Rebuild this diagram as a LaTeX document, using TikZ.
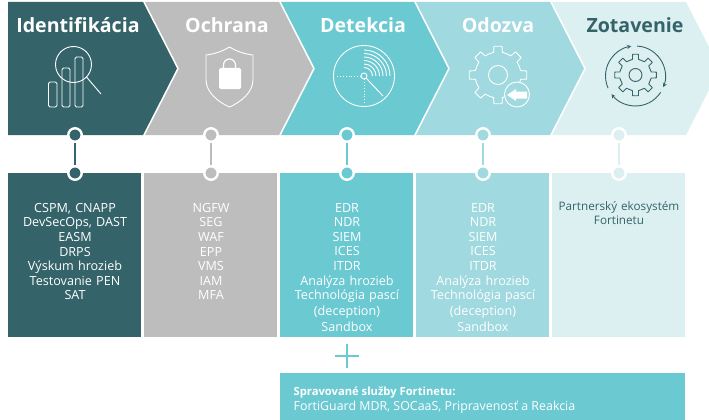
\documentclass[tikz,border=0pt]{standalone}
\usepackage{fontspec}
\setmainfont{Open Sans}
\usetikzlibrary{arrows}

\definecolor{identcol}{HTML}{35636A}
\definecolor{ochrcol}{HTML}{BDBDBD}
\definecolor{detcol}{HTML}{6BC9D2}
\definecolor{odocol}{HTML}{A0D9DF}
\definecolor{zotcol}{HTML}{DCF0F2}

% 8 teeth: outer radius, root radius
\newcommand{\gearpath}[2]{(-11:#2) \foreach \a in {0,45,...,315} {
	-- (\a-11:#2) -- (\a-8:#1) -- (\a+8:#1) -- (\a+11:#2) to[bend left=8] (\a+34:#2)} -- cycle}

\tikzset{
	heading/.style={font=\fontsize{19.6}{22}\selectfont\bfseries},
	box/.style={fill=#1, minimum width=133, minimum height=164, inner sep=0, anchor=north west},
	boxtext/.style={anchor=north, align=center, text width=133, inner sep=0, text=white, font=\fontsize{12.6}{14.6}\selectfont},
	dot/.style={circle, draw=white, line width=2.4, fill=#1, minimum size=13.5, inner sep=0},
	icon/.style={draw=white, line width=0.9, line join=round},
}

\begin{document}
\begin{tikzpicture}[x=1pt,y=-1pt]
	\useasboundingbox (0,0) rectangle (709,420);
	\clip (0,0) rectangle (709,420);

	\fill[identcol] (8,2) -- (143,2) -- (177,68.5) -- (143,135) -- (8,135) -- cycle;
	\fill[ochrcol] (145,2) -- (279,2) -- (313,68.5) -- (279,135) -- (145,135) -- (179,68.5) -- cycle;
	\fill[detcol] (281,2) -- (414,2) -- (448,68.5) -- (414,135) -- (281,135) -- (315,68.5) -- cycle;
	\fill[odocol] (416,2) -- (550,2) -- (584,68.5) -- (550,135) -- (416,135) -- (450,68.5) -- cycle;
	\fill[zotcol] (552,2) -- (686,2) -- (720,68.5) -- (686,135) -- (552,135) -- (586,68.5) -- cycle;

	\node[heading,text=white] (h1) at (78,25) {Identifikácia};
	\node[heading,text=white] (h2) at (227,25) {Ochrana};
	\node[heading,text=white] (h3) at (363,25) {Detekcia};
	\node[heading,text=white] (h4) at (498,25) {Odozva};
	\node[heading,text=identcol] (h5) at (635,25) {Zotavenie};

	% bars and magnifier
	\draw[icon,rounded corners=1.5] (48.5,82) rectangle (57,107);
	\draw[icon,rounded corners=1.5] (62,68) rectangle (70,107);
	\draw[icon,rounded corners=1.5] (75,57) rectangle (83,107);
	\draw[icon] (73.5,64.5) circle (18);
	\draw[icon] (86.5,77) -- (101,94);

	% shield
	\draw[icon] (229.5,47) .. controls (221,52) and (214,54) .. (206,55) -- (206,80) .. controls (206,92) and (218,102) .. (229.5,107) .. controls (241,102) and (253,92) .. (253,80) -- (253,55) .. controls (245,54) and (238,52) .. (229.5,47) -- cycle;
	\fill[white,rounded corners=1.5] (219,68) rectangle (241,89);
	\draw[white,line width=1.2] (223.5,69) -- (223.5,65) arc (180:360:6) -- (235.5,69);

	% radar
	\draw[icon] (364,76) circle (30.5);
	\draw[icon] (364,76) circle (3);
	\draw[icon,dotted,line width=1] (361,76.5) -- (335,76.5);
	\draw[icon,dotted,line width=1] (364,79) -- (364,105);
	\draw[icon] (366,78) -- (383,96);
	\draw[icon] (364,50) arc (-90:0:26);
	\draw[icon] (364,53.5) arc (-90:0:22.5);
	\draw[icon] (364,57) arc (-90:0:19);
	\draw[icon] (364,60.5) arc (-90:0:15.5);
	\draw[icon] (364,64) arc (-90:0:12);
	\draw[icon] (364,67.5) arc (-90:0:8.5);

	% gear with arrow
	\draw[icon,shift={(498,75)}] \gearpath{29}{23};
	\draw[icon] (498,75) circle (9.5);
	\draw[icon,fill=odocol] (517,94.5) circle (12.5);
	\fill[white] (507,95) -- (516,89) -- (516,91.5) -- (527,91.5) -- (527,98.5) -- (516,98.5) -- (516,101) -- cycle;

	% gear with turning arrows
	\draw[icon,draw=identcol,shift={(635.5,75)}] \gearpath{21}{16};
	\draw[icon,draw=identcol] (635.5,75) circle (6.5);
	\draw[icon,draw=identcol,-stealth,shift={(635.5,76)}] (-87:30) arc (-87:22:30);
	\draw[icon,draw=identcol,-stealth,shift={(635.5,76)}] (33:30) arc (33:143:30);
	\draw[icon,draw=identcol,-stealth,shift={(635.5,76)}] (156:30) arc (156:262:30);

	\node[box=identcol] (b1) at (8,173) {};
	\node[box=ochrcol] (b2) at (144,173) {};
	\node[box=detcol] (b3) at (280,173) {};
	\node[box=odocol] (b4) at (416,173) {};
	\node[box=zotcol] (b5) at (552,173) {};

	\node[boxtext] (t1) at (75,203) {CSPM, CNAPP\\DevSecOps, DAST\\EASM\\DRPS\\Výskum hrozieb\\Testovanie PEN\\SAT};
	\node[boxtext] (t2) at (211,203) {NGFW\\SEG\\WAF\\EPP\\VMS\\IAM\\MFA};
	\node[boxtext] (t3) at (347,203) {EDR\\NDR\\SIEM\\ICES\\ITDR\\Analýza hrozieb\\Technológia pascí\\[1.2pt](deception)\\[1.2pt]Sandbox};
	\node[boxtext] (t4) at (483,203) {EDR\\NDR\\SIEM\\ICES\\ITDR\\Analýza hrozieb\\Technológia pascí\\[1.2pt](deception)\\[1.2pt]Sandbox};
	\node[boxtext,text=identcol,font=\fontsize{11.7}{14.6}\selectfont] (t5) at (619,201) {Partnerský ekosystém\\Fortinetu};

	\node[dot=identcol] (u1) at (75,135) {};
	\node[dot=identcol] (l1) at (75,173) {};
	\draw[identcol,line width=2.2] (u1) -- (l1);
	\node[dot=ochrcol] (u2) at (211,135) {};
	\node[dot=ochrcol] (l2) at (211,173) {};
	\draw[ochrcol,line width=2.2] (u2) -- (l2);
	\node[dot=detcol] (u3) at (347,135) {};
	\node[dot=detcol] (l3) at (347,173) {};
	\draw[detcol,line width=2.2] (u3) -- (l3);
	\node[dot=odocol] (u4) at (483,135) {};
	\node[dot=odocol] (l4) at (483,173) {};
	\draw[odocol,line width=2.2] (u4) -- (l4);
	\node[dot=zotcol] (u5) at (619,135) {};
	\node[dot=zotcol] (l5) at (619,173) {};
	\draw[zotcol,line width=2.2] (u5) -- (l5);

	% plus
	\draw[detcol,line width=2] (335,356) -- (359,356);
	\draw[detcol,line width=2] (347,344) -- (347,368);

	\node[fill=detcol, minimum width=405, minimum height=47, inner sep=0, anchor=north west] (b6) at (280,373) {};
	\node[anchor=north west, align=left, inner sep=0, text=white, font=\fontsize{12.4}{15}\selectfont] (t6) at (293.5,387) {{\fontsize{11.2}{15}\selectfont\bfseries Spravované služby Fortinetu:}\\FortiGuard MDR, SOCaaS, Pripravenosť a Reakcia};
\end{tikzpicture}
\end{document}
